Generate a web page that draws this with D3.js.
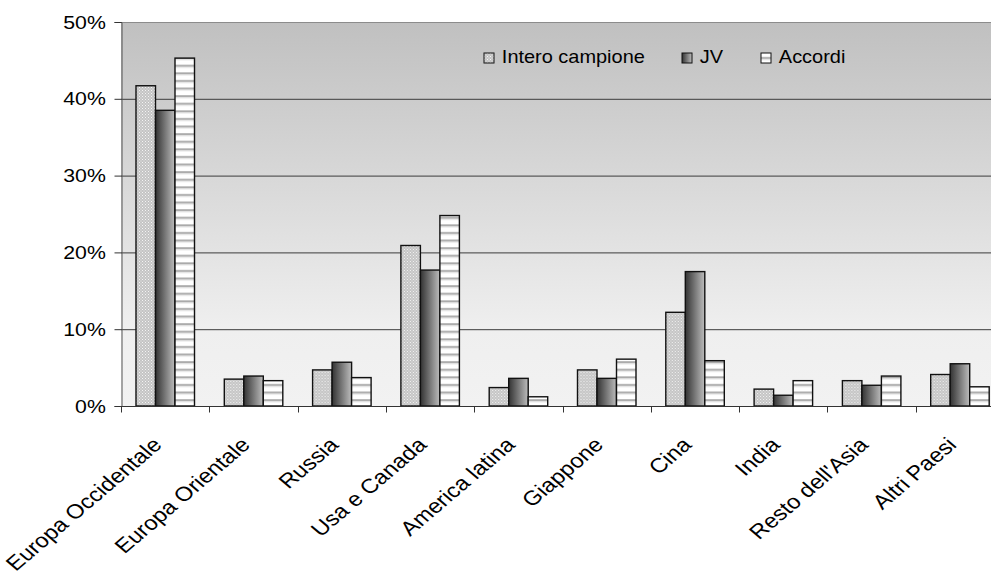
<!DOCTYPE html>
<html>
<head>
<meta charset="utf-8">
<script src="https://cdn.jsdelivr.net/npm/d3@7"></script>
<style>
  body { margin: 0; background: #fff; }
  text { font-family: "Liberation Sans", Arial, sans-serif; fill: #000; }
</style>
</head>
<body>
<svg id="chart" width="991" height="574"></svg>
<script>
// data
const categories = ['Europa Occidentale', 'Europa Orientale', 'Russia', 'Usa e Canada', 'America latina',
    'Giappone', 'Cina', 'India', "Resto dell'Asia", 'Altri Paesi'];
const series = ['Intero campione', 'JV', 'Accordi'];
const interoCampione = [41.7, 3.5, 4.7, 20.9, 2.4, 4.7, 12.2, 2.2, 3.3, 4.1];
const jv = [38.5, 3.9, 5.7, 17.7, 3.6, 3.6, 17.5, 1.4, 2.7, 5.5];
const accordi = [45.3, 3.3, 3.7, 24.8, 1.2, 6.1, 5.9, 3.3, 3.9, 2.5];
const yTicks = [0, 10, 20, 30, 40, 50];

const values = [interoCampione, jv, accordi];
const fills = ['url(#pDots)', 'url(#gJV)', 'url(#pStripes)'];

const svg = d3.select('#chart');
const pLeft = 121, pRight = 1004, pTop = 22, pBottom = 406;

const x = d3.scaleBand().domain(categories).range([pLeft, pRight]);
const xs = d3.scaleBand().domain(series).range([15, 73.5]);
const y = d3.scaleLinear().domain([0, 50]).range([pBottom, pTop]);

// patterns and gradients
const defs = svg.append('defs');
const bg = defs.append('linearGradient').attr('id', 'gBg')
    .attr('x1', 0).attr('y1', 0).attr('x2', 0).attr('y2', 1);
bg.append('stop').attr('offset', '0%').attr('stop-color', '#c0c0c0');
bg.append('stop').attr('offset', '80%').attr('stop-color', '#efefef');
bg.append('stop').attr('offset', '100%').attr('stop-color', '#f2f2f2');

const gj = defs.append('linearGradient').attr('id', 'gJV')
    .attr('x1', 0).attr('y1', 0).attr('x2', 1).attr('y2', 0);
gj.append('stop').attr('offset', '0%').attr('stop-color', '#333');
gj.append('stop').attr('offset', '100%').attr('stop-color', '#bdbdbd');

const pd = defs.append('pattern').attr('id', 'pDots')
    .attr('width', 3).attr('height', 3).attr('patternUnits', 'userSpaceOnUse');
pd.append('rect').attr('width', 3).attr('height', 3).attr('fill', '#c4c4c4');
pd.append('rect').attr('width', 1).attr('height', 1).attr('fill', '#f4f4f4');
pd.append('rect').attr('x', 1.5).attr('y', 1.5).attr('width', 1).attr('height', 1).attr('fill', '#ececec');

const ps = defs.append('pattern').attr('id', 'pStripes')
    .attr('width', 8).attr('height', 7.6).attr('patternUnits', 'userSpaceOnUse');
ps.append('rect').attr('width', 8).attr('height', 7.6).attr('fill', '#fff');
ps.append('rect').attr('y', 4).attr('width', 8).attr('height', 2).attr('fill', '#a8a8a8');
ps.append('rect').attr('y', 6).attr('width', 8).attr('height', 1).attr('fill', '#dcdcdc');

// plot background
svg.append('rect')
    .attr('x', pLeft).attr('y', pTop)
    .attr('width', pRight - pLeft).attr('height', pBottom - pTop)
    .attr('fill', 'url(#gBg)');

// gridlines
svg.append('g').selectAll('line')
    .data(yTicks.filter(d => d > 0))
    .enter().append('line')
    .attr('x1', pLeft).attr('x2', pRight)
    .attr('y1', d => y(d) + 0.5).attr('y2', d => y(d) + 0.5)
    .attr('stroke', d => d === 50 ? '#8c8c8c' : '#3c3c3c')
    .attr('stroke-width', 1);

// bars
const groups = svg.append('g').selectAll('g')
    .data(categories)
    .enter().append('g')
    .attr('transform', d => `translate(${x(d)},0)`);

groups.selectAll('rect')
    .data((d, i) => series.map((s, j) => ({s: s, j: j, v: values[j][i]})))
    .enter().append('rect')
    .attr('x', d => xs(d.s))
    .attr('width', xs.bandwidth())
    .attr('y', d => y(d.v))
    .attr('height', d => pBottom - y(d.v))
    .attr('fill', d => fills[d.j])
    .attr('stroke', '#111')
    .attr('stroke-width', 1.4);

// y axis
const yAxis = svg.append('g')
    .attr('transform', `translate(${pLeft + 0.5},0)`)
    .call(d3.axisLeft(y).tickValues(yTicks).tickSize(7).tickPadding(7)
        .tickFormat(d => d + '%'));
yAxis.select('.domain').attr('stroke', '#555');
yAxis.selectAll('.tick line').attr('stroke', '#333');
yAxis.selectAll('.tick text')
    .style('font-size', '19px')
    .attr('transform', 'scale(1.12,1)');

// x axis
const xAxis = svg.append('g')
    .attr('transform', `translate(0,${pBottom + 0.5})`);
xAxis.append('line')
    .attr('x1', pLeft).attr('x2', pRight)
    .attr('stroke', '#333').attr('stroke-width', 1.2);
xAxis.selectAll('.tk')
    .data(categories)
    .enter().append('line')
    .attr('class', 'tk')
    .attr('x1', d => Math.round(x(d)) + 0.5).attr('x2', d => Math.round(x(d)) + 0.5)
    .attr('y1', 0).attr('y2', 6)
    .attr('stroke', '#333');

// category labels (the picture is slightly stretched horizontally)
svg.append('g').selectAll('text')
    .data(categories)
    .enter().append('text')
    .attr('text-anchor', 'end')
    .attr('transform', d => `translate(${x(d) + x.bandwidth() / 2 - 2},446) scale(1.17,1) rotate(-45)`)
    .style('font-size', '20.3px')
    .text(d => d);

// legend
const legendX = [484, 682, 761];
const legend = svg.append('g').attr('class', 'legend');
const items = legend.selectAll('.legend-item')
    .data(series)
    .enter().append('g')
    .attr('class', 'legend-item')
    .attr('transform', (d, i) => `translate(${legendX[i]},53)`);
items.append('rect')
    .attr('width', 10).attr('height', 10)
    .attr('fill', (d, i) => fills[i])
    .attr('stroke', '#111').attr('stroke-width', 1);
items.append('text')
    .attr('x', 17).attr('y', 10)
    .attr('transform', 'scale(1.05,1)')
    .style('font-size', '19px')
    .text(d => d);
</script>
</body>
</html>
